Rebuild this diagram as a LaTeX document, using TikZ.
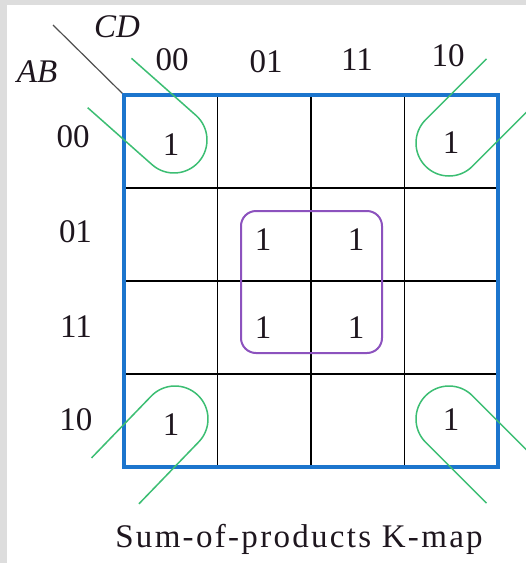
\documentclass[tikz,border=0pt]{standalone}
\usepackage{fontspec}
\setmainfont{Liberation Serif}
\definecolor{bgframe}{RGB}{221,221,221}
\definecolor{kblue}{RGB}{28,117,205}
\definecolor{kgreen}{RGB}{60,190,115}
\definecolor{kpurple}{RGB}{140,82,190}
\definecolor{txt}{RGB}{30,22,30}
\definecolor{diag}{RGB}{80,80,80}
\tikzset{
  lbl/.style={font=\fontsize{33}{36}\selectfont, inner sep=0pt, text=txt},
  ilbl/.style={lbl, font=\fontsize{33}{36}\selectfont\itshape},
  grid line/.style={line width=1.8pt, black},
  frame line/.style={line width=4.5pt, kblue},
  loop line/.style={line width=1.5pt, kgreen},
  group box/.style={line width=2pt, kpurple, rounded corners=15pt},
}
\begin{document}
\begin{tikzpicture}[x=1pt,y=1pt]
\useasboundingbox (0,0) rectangle (526,-563);
\fill[bgframe] (0,0) rectangle (526,-563);
\fill[white] (7,-5) rectangle (526,-563);
\clip (0,0) rectangle (526,-563);
% grid
\coordinate (tl) at (124,-95);
\coordinate (br) at (498,-467);
\foreach \x in {217.5,311,404.5} \draw[grid line] (\x,-95) -- (\x,-467);
\foreach \y in {188,281,374} \draw[grid line] (124,-\y) -- (498,-\y);
\coordinate (dstart) at (53,-25);
\draw[line width=1.2pt, diag] (dstart) -- (tl);
\draw[frame line] (tl) rectangle (br);
% labels
\node[ilbl] (cd) at (117,-27) {CD};
\node[ilbl] (ab) at (37,-72) {AB};
\node[lbl] (c00) at (172,-60) {00};
\node[lbl] (c01) at (266,-61.5) {01};
\node[lbl] (c11) at (357,-60) {11};
\node[lbl] (c10) at (448,-56) {10};
\node[lbl] (r00) at (73,-137) {00};
\node[lbl] (r01) at (75.5,-232) {01};
\node[lbl] (r11) at (76,-327) {11};
\node[lbl] (r10) at (76,-419.5) {10};
% ones
\node[lbl] (m0) at (171,-145) {1};
\node[lbl] (m2) at (451,-143) {1};
\node[lbl] (m5) at (263,-240) {1};
\node[lbl] (m7) at (356,-240) {1};
\node[lbl] (m13) at (263,-328) {1};
\node[lbl] (m15) at (356,-328) {1};
\node[lbl] (m8) at (171,-425) {1};
\node[lbl] (m10) at (451,-420) {1};
% purple group
\draw[group box] (241,-211) rectangle (382,-353);
% green corner loops
\begin{scope}[shift={(174,-140)}, rotate=-41.5]
  \draw[loop line] (-86,33) -- (0,33) arc[start angle=90, end angle=-90, radius=33] -- (-86,-33);
\end{scope}
\begin{scope}[shift={(449,-143)}, rotate=-135]
  \draw[loop line] (-86,33) -- (0,33) arc[start angle=90, end angle=-90, radius=33] -- (-86,-33);
\end{scope}
\begin{scope}[shift={(175,-419)}, rotate=46]
  \draw[loop line] (-86,33) -- (0,33) arc[start angle=90, end angle=-90, radius=33] -- (-86,-33);
\end{scope}
\begin{scope}[shift={(449,-419)}, rotate=135]
  \draw[loop line] (-86,33) -- (0,33) arc[start angle=90, end angle=-90, radius=33] -- (-86,-33);
\end{scope}
% caption
\node[lbl, anchor=base, font=\fontsize{33}{36}\selectfont\addfontfeatures{LetterSpace=7}] (cap) at (299,-547) {Sum-of-products K-map};
\end{tikzpicture}
\end{document}
